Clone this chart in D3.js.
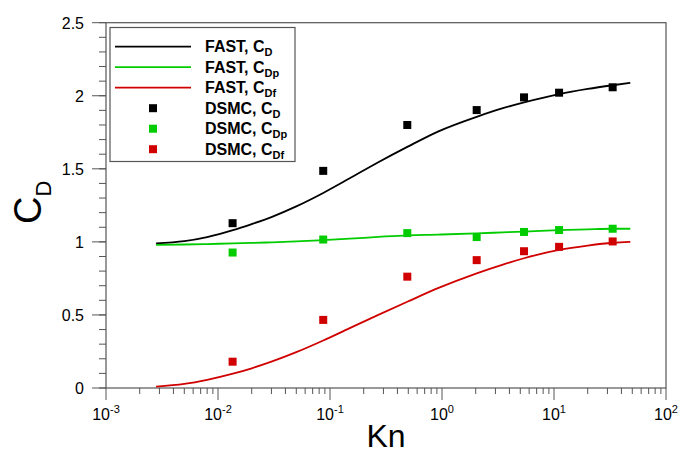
<!DOCTYPE html>
<html><head><meta charset="utf-8">
<script src="https://cdn.jsdelivr.net/npm/d3@7"></script>
<style>body{margin:0;background:#fff}svg{display:block}text{font-family:Arial,"Liberation Sans",sans-serif;fill:#000}</style>
</head><body><svg id="c" width="679" height="453"></svg>
<script>
// ---- data ----
const fastKn  = [0.0028,0.005,0.008,0.0136,0.02,0.03,0.05,0.087,0.15,0.27,0.49,0.92,2.04,3.5,5.4,11.1,20,33.4,48];
const fastCD  = [0.99,1.005,1.033,1.08,1.122,1.17,1.243,1.335,1.435,1.545,1.65,1.755,1.856,1.915,1.955,2.012,2.047,2.072,2.088];
const fastCDp = [0.98,0.982,0.985,0.99,0.993,0.997,1.003,1.012,1.022,1.034,1.045,1.05,1.058,1.065,1.07,1.08,1.086,1.09,1.09];
const fastCDf = [0.01,0.028,0.056,0.098,0.135,0.18,0.245,0.325,0.41,0.50,0.59,0.683,0.785,0.845,0.888,0.945,0.975,0.994,1.0];
const dsmcKn  = [0.0135,0.087,0.49,2.04,5.4,11.1,33.4];
const dsmcCD  = [1.128,1.486,1.80,1.902,1.989,2.021,2.058];
const dsmcCDp = [0.927,1.016,1.06,1.033,1.068,1.081,1.09];
const dsmcCDf = [0.18,0.466,0.762,0.875,0.936,0.966,1.003];
const xTickExp = [-3,-2,-1,0,1,2];
const yTicks = [0,0.5,1,1.5,2,2.5];
const legendLabels = [["FAST, C","D"],["FAST, C","Dp"],["FAST, C","Df"],["DSMC, C","D"],["DSMC, C","Dp"],["DSMC, C","Df"]];
const seriesColors = ["#000000","#00cc00","#d00000"];

// ---- layout ----
const L=106, R=666, T=22.7, B=388;
const svg=d3.select("#c");
const x=d3.scaleLog().domain([1e-3,1e2]).range([L,R]);
const y=d3.scaleLinear().domain([0,2.5]).range([B,T]);
const axisCol="#555";

// frame
svg.append("rect").attr("x",L).attr("y",T).attr("width",R-L).attr("height",B-T)
  .attr("fill","none").attr("stroke",axisCol).attr("stroke-width",1.2);

// x ticks
const xMinor=[];
for(let e=-3;e<2;e++) for(let m=2;m<=9;m++) xMinor.push(m*Math.pow(10,e));
svg.selectAll(".xmin").data(xMinor).enter().append("line")
  .attr("x1",d=>x(d)).attr("x2",d=>x(d)).attr("y1",B).attr("y2",B+6).attr("stroke",axisCol);
svg.selectAll(".xmaj").data(xTickExp).enter().append("line")
  .attr("x1",d=>x(Math.pow(10,d))).attr("x2",d=>x(Math.pow(10,d))).attr("y1",B).attr("y2",B+12).attr("stroke",axisCol);
const xl=svg.selectAll(".xl").data(xTickExp).enter().append("text")
  .attr("x",d=>x(Math.pow(10,d))).attr("y",419.5).attr("text-anchor","middle").style("font-size","16px");
xl.append("tspan").text("10");
xl.append("tspan").attr("dy",-7).style("font-size","11px").text(d=>d);

// y ticks
const yMinor=d3.range(0,26).map(i=>i/10);
svg.selectAll(".ymin").data(yMinor).enter().append("line")
  .attr("x1",L-7).attr("x2",L).attr("y1",d=>y(d)).attr("y2",d=>y(d)).attr("stroke",axisCol);
svg.selectAll(".ymaj").data(yTicks).enter().append("line")
  .attr("x1",L-14).attr("x2",L).attr("y1",d=>y(d)).attr("y2",d=>y(d)).attr("stroke",axisCol);
svg.selectAll(".yl").data(yTicks).enter().append("text")
  .attr("x",84).attr("y",d=>y(d)+5.8).attr("text-anchor","end").style("font-size","16px").text(d=>d);

// axis titles
svg.append("text").attr("x",386).attr("y",447).attr("text-anchor","middle").style("font-size","32px").text("Kn");
const yt=svg.append("text").attr("transform","translate(41,224) rotate(-90)").style("font-size","38px");
yt.append("tspan").text("C");
yt.append("tspan").attr("dy",10).style("font-size","22px").text("D");

// curves
const line=d3.line().x(d=>x(d[0])).y(d=>y(d[1])).curve(d3.curveMonotoneX);
[fastCD,fastCDp,fastCDf].forEach((s,i)=>{
  svg.append("path").attr("d",line(fastKn.map((k,j)=>[k,s[j]])))
    .attr("fill","none").attr("stroke",seriesColors[i]).attr("stroke-width",1.8);
});
// markers
const ms=8;
[dsmcCD,dsmcCDp,dsmcCDf].forEach((s,i)=>{
  svg.selectAll(null).data(dsmcKn.map((k,j)=>[k,s[j]])).enter().append("rect")
    .attr("x",d=>x(d[0])-ms/2).attr("y",d=>y(d[1])-ms/2).attr("width",ms).attr("height",ms)
    .attr("fill",seriesColors[i]);
});

// legend
const lg=svg.append("g");
lg.append("rect").attr("x",110).attr("y",27.5).attr("width",185).attr("height",134)
  .attr("fill","#fff").attr("stroke",axisCol).attr("stroke-width",1.2);
const rowY=i=>46.7+i*20.5;
legendLabels.forEach((lab,i)=>{
  const c=seriesColors[i%3];
  if(i<3) lg.append("line").attr("x1",115).attr("x2",191).attr("y1",rowY(i)).attr("y2",rowY(i)).attr("stroke",c).attr("stroke-width",1.8);
  else lg.append("rect").attr("x",153-4).attr("y",rowY(i)-4).attr("width",8).attr("height",8).attr("fill",c);
  const t=lg.append("text").attr("x",205).attr("y",rowY(i)+5.5).style("font-size","16px").style("font-weight","bold");
  t.append("tspan").text(lab[0]);
  t.append("tspan").attr("dy",4).style("font-size","11px").text(lab[1]);
});
</script></body></html>
